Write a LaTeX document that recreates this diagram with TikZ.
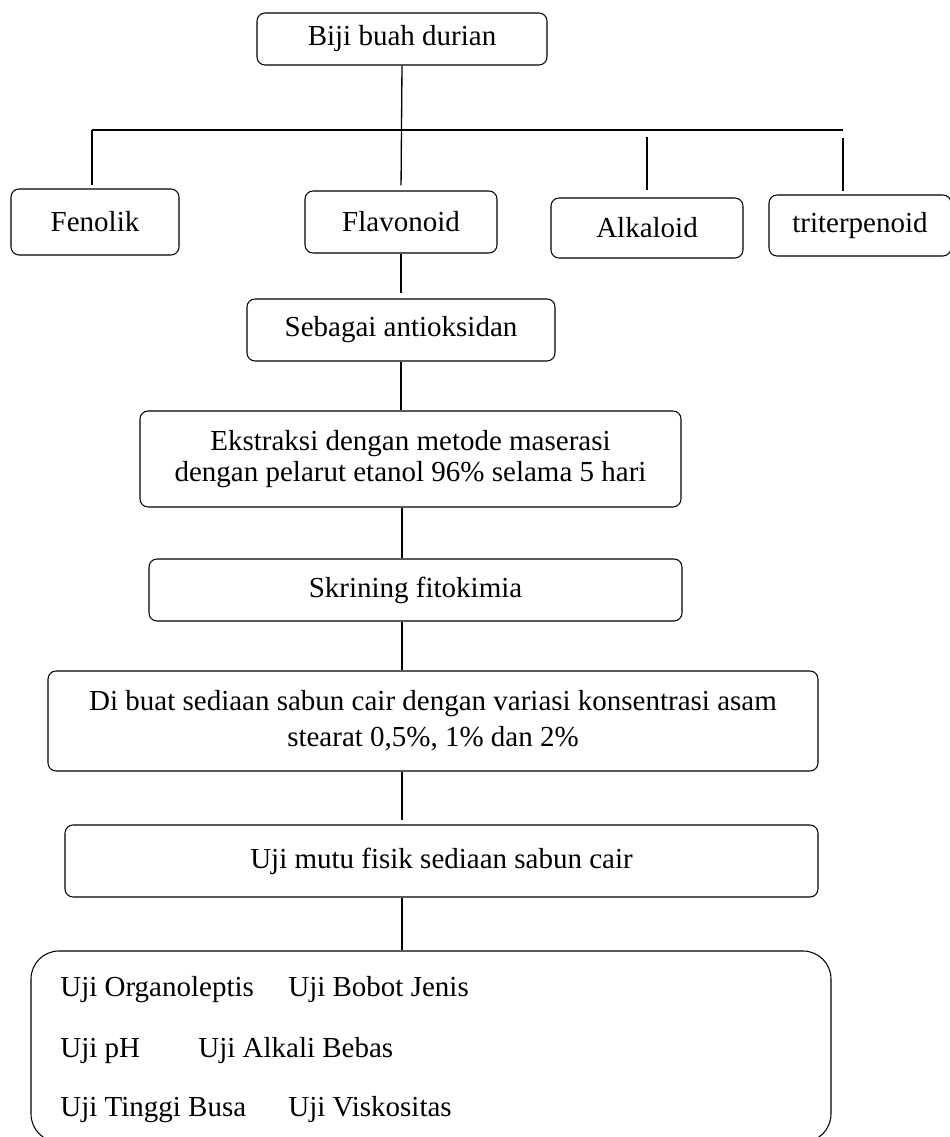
\documentclass[tikz,border=0pt]{standalone}
\usepackage{fontspec}
\setmainfont{Liberation Serif}
\usetikzlibrary{positioning}
\tikzset{
  box/.style={
    rectangle,
    rounded corners=1.6mm,
    draw,
    line width=0.6pt,
    align=center,
    inner sep=0pt,
    font=\fontsize{16.5}{20.5}\selectfont
  },
  testbox/.style={
    rectangle,
    rounded corners=5.6mm,
    draw,
    line width=0.6pt,
    inner sep=0pt
  },
  item/.style={anchor=base west, inner sep=0pt, font=\fontsize{16.5}{20}\selectfont},
  link/.style={line width=0.75pt},
  busline/.style={line width=1.3pt}
}

\begin{document}
\begin{tikzpicture}[x=1cm,y=1cm]
\useasboundingbox (0,0) rectangle (18.98,22.74);
\node[box, minimum width=5.8cm, minimum height=1.04cm] (biji) at (8.04,21.96) {Biji buah durian};
\node[box, minimum width=3.36cm, minimum height=1.32cm] (fenolik) at (1.9,18.3) {Fenolik};
\node[box, minimum width=3.84cm, minimum height=1.24cm] (flavonoid) at (8.02,18.3) {Flavonoid};
\node[box, minimum width=3.84cm, minimum height=1.2cm] (alkaloid) at (12.94,18.18) {Alkaloid};
\node[box, minimum width=3.64cm, minimum height=1.22cm] (triterpenoid) at (17.2,18.23) {triterpenoid};
\node[box, minimum width=6.16cm, minimum height=1.24cm] (antioksidan) at (8.02,16.14) {Sebagai antioksidan};
\node[box, minimum width=10.82cm, minimum height=1.92cm, font=\fontsize{16.5}{17.8}\selectfont] (ekstraksi) at (8.21,13.56) {Ekstraksi dengan metode maserasi\\dengan pelarut etanol 96\% selama 5 hari};
\node[box, minimum width=10.66cm, minimum height=1.24cm] (skrining) at (8.31,10.94) {Skrining fitokimia};
\node[box, minimum width=15.4cm, minimum height=2.0cm] (sabun) at (8.66,8.32) {Di buat sediaan sabun cair dengan variasi konsentrasi asam\\stearat 0,5\%, 1\% dan 2\%};
\node[box, minimum width=15.06cm, minimum height=1.44cm] (mutu) at (8.83,5.52) {Uji mutu fisik sediaan sabun cair};
\node[testbox, minimum width=16.0cm, minimum height=3.82cm] (uji) at (8.62,1.81) {};

% daftar uji
\node[item] (organoleptis) at (1.2,2.8) {Uji Organoleptis};
\node[item] (bobot) at (5.76,2.8) {Uji Bobot Jenis};
\node[item] (ph) at (1.2,1.58) {Uji pH};
\node[item] (alkali) at (3.96,1.58) {Uji Alkali Bebas};
\node[item] (busa) at (1.2,0.4) {Uji Tinggi Busa};
\node[item] (viskositas) at (5.76,0.4) {Uji Viskositas};

% garis penghubung
\coordinate (busL) at (1.84,20.14);
\coordinate (busR) at (16.86,20.14);
\coordinate (stubA) at (12.94,20.0);
\coordinate (stubT) at (16.86,19.98);
\draw[busline] (busL) -- (busR);
\draw[link, shorten >=1mm] (biji.south) -- (flavonoid.north);
\draw[link, shorten >=0.6mm] (busL) -- (busL |- fenolik.north);
\draw[link, shorten >=1.4mm] (stubA) -- (alkaloid.north);
\draw[link, shorten >=0.6mm] (stubT) -- (stubT |- triterpenoid.north);
\draw[link, shorten >=1mm] (flavonoid.south) -- (antioksidan.north);
\draw[link] (antioksidan.south) -- (antioksidan.south |- ekstraksi.north);
\draw[link] (ekstraksi.south -| biji) -- (skrining.north -| biji);
\draw[link] (skrining.south -| biji) -- (sabun.north -| biji);
\draw[link, shorten >=0.8mm] (sabun.south -| biji) -- (mutu.north -| biji);
\draw[link] (mutu.south -| biji) -- (uji.north -| biji);
\end{tikzpicture}
\end{document}
